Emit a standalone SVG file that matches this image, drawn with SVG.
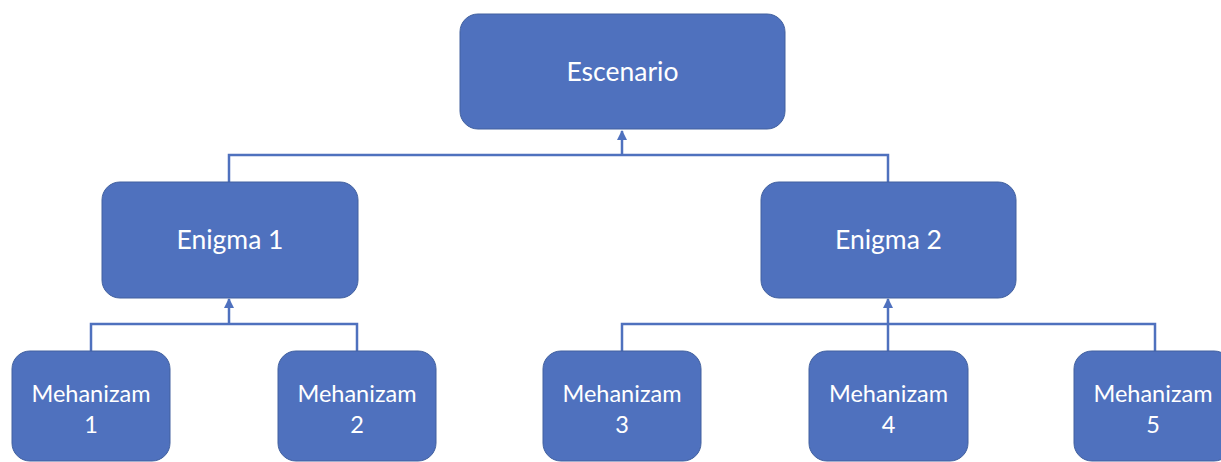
<svg xmlns="http://www.w3.org/2000/svg" width="1221" height="462" viewBox="0 0 1221 462">
<defs>
<style>
.box{fill:#4F71BE;stroke:#42619F;stroke-width:1}
.lbl{font-family:Lato,"Open Sans","Liberation Sans",sans-serif;fill:#ffffff;text-anchor:middle}
.big{font-size:26.5px}
.sm{font-size:23.5px}
.con{fill:none;stroke:#4F71BE;stroke-width:2.5}
</style>
<marker id="arr" viewBox="0 0 10 10" refX="9" refY="5" markerWidth="4" markerHeight="4" orient="auto" markerUnits="strokeWidth">
<path d="M0,0 L10,5 L0,10 z" fill="#4F71BE"/>
</marker>
</defs>
<rect width="1221" height="462" fill="#ffffff"/>
<g id="connectors">
<path class="con" d="M229,182 V155 H888 V182"/>
<path class="con" d="M622,155 V131" marker-end="url(#arr)"/>
<path class="con" d="M91,351 V324 H357 V351"/>
<path class="con" d="M229,324 V299" marker-end="url(#arr)"/>
<path class="con" d="M622,351 V324 H1155 V351"/>
<path class="con" d="M888,351 V299" marker-end="url(#arr)"/>
</g>
<g id="escenario">
<rect class="box" x="460" y="14" width="325" height="115" rx="18"/>
<text class="lbl big" x="622.5" y="81">Escenario</text>
</g>
<g id="enigma1">
<rect class="box" x="102" y="182" width="256" height="116" rx="18"/>
<text class="lbl big" x="230" y="249">Enigma 1</text>
</g>
<g id="enigma2">
<rect class="box" x="761" y="182" width="255" height="116" rx="18"/>
<text class="lbl big" x="888.5" y="249">Enigma 2</text>
</g>
<g id="meh1">
<rect class="box" x="12" y="351" width="158" height="110" rx="18"/>
<text class="lbl sm" x="91" y="402">Mehanizam</text>
<text class="lbl sm" x="91" y="433">1</text>
</g>
<g id="meh2">
<rect class="box" x="278" y="351" width="158" height="110" rx="18"/>
<text class="lbl sm" x="357" y="402">Mehanizam</text>
<text class="lbl sm" x="357" y="433">2</text>
</g>
<g id="meh3">
<rect class="box" x="543" y="351" width="158" height="110" rx="18"/>
<text class="lbl sm" x="622" y="402">Mehanizam</text>
<text class="lbl sm" x="622" y="433">3</text>
</g>
<g id="meh4">
<rect class="box" x="809" y="351" width="159" height="110" rx="18"/>
<text class="lbl sm" x="888.5" y="402">Mehanizam</text>
<text class="lbl sm" x="888.5" y="433">4</text>
</g>
<g id="meh5">
<rect class="box" x="1074" y="351" width="158" height="110" rx="18"/>
<text class="lbl sm" x="1153" y="402">Mehanizam</text>
<text class="lbl sm" x="1153" y="433">5</text>
</g>
</svg>
